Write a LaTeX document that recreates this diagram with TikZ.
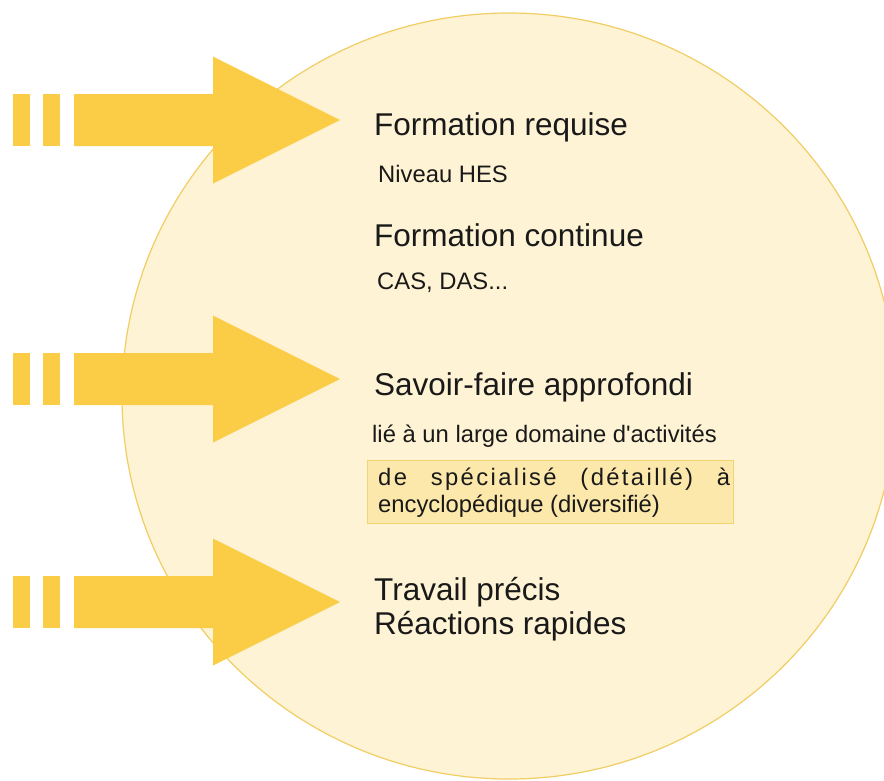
\documentclass[tikz,border=0pt]{standalone}
\usepackage{fontspec}
\setmainfont{Liberation Sans}
\definecolor{arrowy}{RGB}{251,205,70}
\definecolor{circfill}{RGB}{254,243,212}
\definecolor{circline}{RGB}{240,206,100}
\definecolor{boxfill}{RGB}{252,232,170}
\definecolor{boxline}{RGB}{244,212,110}
\definecolor{txt}{RGB}{25,25,25}
\begin{document}
\begin{tikzpicture}[x=1pt,y=-1pt,
  bigtxt/.style={anchor=base west,inner sep=0pt,text=txt,font=\fontsize{31.5}{34}\selectfont},
  smalltxt/.style={anchor=base west,inner sep=0pt,text=txt,font=\fontsize{23.8}{27}\selectfont},
  arrowshape/.style={fill=arrowy,draw=none}]
\useasboundingbox (0,0) rectangle (884,780);
\clip (0,0) rectangle (884,780);
\fill[white] (0,0) rectangle (884,780);
% circle
\draw[fill=circfill,draw=circline,line width=1.2pt] (509,396) ellipse [x radius=387,y radius=383];
% arrows
\foreach \cy in {120,379,602}{
  \fill[arrowshape] (13,\cy-26) rectangle (30,\cy+26);
  \fill[arrowshape] (43,\cy-26) rectangle (60,\cy+26);
  \fill[arrowshape] (74,\cy-26) -- (213,\cy-26) -- (213,\cy-63.5) -- (340,\cy)
     -- (213,\cy+63.5) -- (213,\cy+26) -- (74,\cy+26) -- cycle;
}
% texts
\node[bigtxt] (fr) at (374,135) {Formation requise};
\node[smalltxt] (nh) at (378,182) {Niveau HES};
\node[bigtxt] (fc) at (374,246) {Formation continue};
\node[smalltxt] (cas) at (377,289) {CAS, DAS...};
\node[bigtxt] (sf) at (374,395) {Savoir-faire approfondi};
\node[smalltxt] (lie) at (372,442) {lié à un large domaine d\textquotesingle activités};
\node[draw=boxline,fill=boxfill,line width=0.8pt,minimum width=366pt,minimum height=63pt,anchor=north west,inner sep=0pt] (box) at (367,460) {};
\node[smalltxt] (l1) at (378,485) {\makebox[352pt][s]{\addfontfeature{LetterSpace=10}de spécialisé (détaillé) à}};
\node[smalltxt] (l2) at (378,512) {encyclopédique (diversifié)};
\node[bigtxt] (tp) at (374,600) {Travail précis};
\node[bigtxt] (rr) at (374,634) {Réactions rapides};
\end{tikzpicture}
\end{document}
